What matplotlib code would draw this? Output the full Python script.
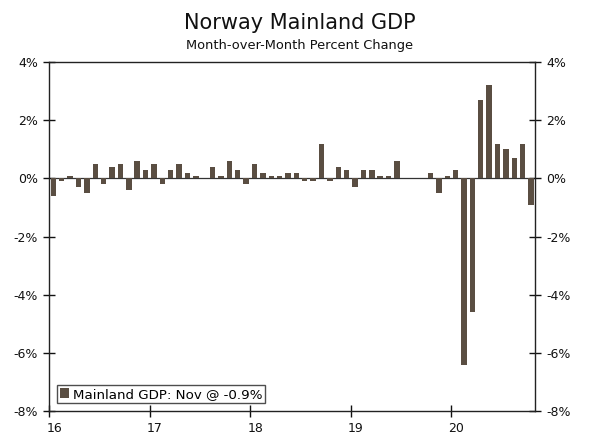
import matplotlib
matplotlib.use("Agg")
import matplotlib.pyplot as plt
import matplotlib.transforms as mtransforms
from matplotlib.ticker import FuncFormatter

# month-over-month % change, Feb 2016 .. Nov 2020
start_year = 2016
start_month = 2
gdp_mom = [
    -0.6, -0.1, 0.1, -0.3, -0.5, 0.5, -0.2, 0.4, 0.5, -0.4, 0.6,      # 2016
    0.3, 0.5, -0.2, 0.3, 0.5, 0.2, 0.1, 0.0, 0.4, 0.1, 0.6, 0.3,      # 2017
    -0.2, 0.5, 0.2, 0.1, 0.1, 0.2, 0.2, -0.1, -0.1, 1.2, -0.1, 0.4,   # 2018
    0.3, -0.3, 0.3, 0.3, 0.1, 0.1, 0.6, 0.0, 0.0, 0.0, 0.2, -0.5,     # 2019
    0.1, 0.3, -6.4, -4.6, 2.7, 3.2, 1.2, 1.0, 0.7, 1.2, -0.9,         # 2020
]
year_ticks = [2016, 2017, 2018, 2019, 2020]
year_labels = ["16", "17", "18", "19", "20"]
legend_label = "Mainland GDP: Nov @ -0.9%"

bar_color = "#5a4e42"
text_color = "#111111"

# bars sit in the month slot before the data date (end-of-month convention)
x = [start_year + (start_month - 1 + i) / 12 - 1 / 24 for i in range(len(gdp_mom))]

fig = plt.figure(figsize=(6, 4.44), dpi=100)
ax = fig.add_axes([0.082, 0.074, 0.810, 0.786])

ax.bar(x, gdp_mom, width=0.054, color=bar_color, linewidth=0,
       label=legend_label, zorder=2)
ax.axhline(0, color="#333333", linewidth=0.9, zorder=1)

ax.set_xlim(2016, 2020 + 10 / 12)
ax.set_ylim(-8, 4)
ax.set_yticks(range(-8, 5, 2))
ax.yaxis.set_major_formatter(FuncFormatter(lambda v, p: f"{v:.0f}%"))
ax.set_xticks(year_ticks)
ax.set_xticklabels(year_labels)

ax.tick_params(axis="y", direction="inout", length=8, width=1, labelsize=9,
               colors=text_color, left=True, right=True, labelleft=True,
               labelright=True, pad=4)
ax.tick_params(axis="x", direction="inout", length=8, width=1, labelsize=9,
               colors=text_color, pad=4)

# year labels start just left of their tick
shift = mtransforms.ScaledTranslation(-3 / 100, 0, fig.dpi_scale_trans)
for lab in ax.get_xticklabels():
    lab.set_horizontalalignment("left")
    lab.set_transform(lab.get_transform() + shift)

for sp in ax.spines.values():
    sp.set_color("#222222")
    sp.set_linewidth(1)

leg = ax.legend(loc="lower left", bbox_to_anchor=(0.016, 0.022), fontsize=9.6,
                frameon=True, fancybox=False, handlelength=0.7, handleheight=0.7,
                handletextpad=0.3, borderpad=0.2, borderaxespad=0)
leg.get_frame().set_edgecolor("#222222")
leg.get_frame().set_linewidth(1)

fig.text(0.5, 0.948, "Norway Mainland GDP", ha="center", va="center",
         fontsize=15, color=text_color)
fig.text(0.5, 0.897, "Month-over-Month Percent Change", ha="center", va="center",
         fontsize=9.4, color=text_color)

fig.savefig("out.png", dpi=100)
